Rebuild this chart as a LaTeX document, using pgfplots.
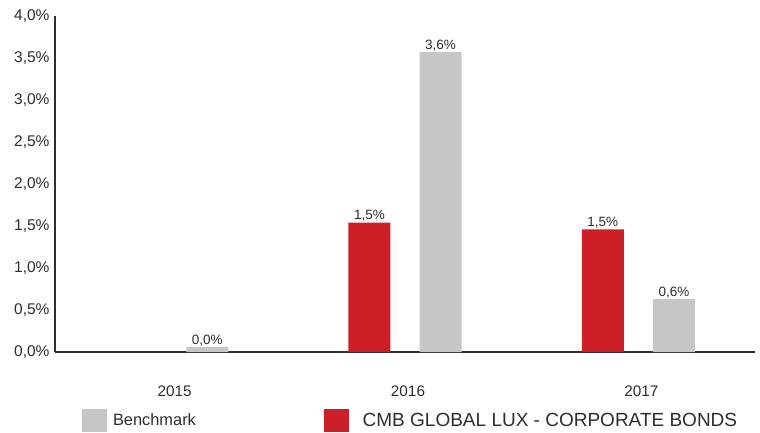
\documentclass[border=0pt]{standalone}
\usepackage{pgfplots}
\pgfplotsset{compat=1.18}
\usepackage{fontspec}
\setmainfont{Liberation Sans}
\definecolor{cmbred}{RGB}{204,31,39}
\definecolor{bench}{RGB}{198,197,199}
\definecolor{txt}{RGB}{45,45,45}
\begin{document}
\begin{tikzpicture}
\useasboundingbox (-55pt,-80pt) rectangle (705pt,352pt);
\begin{axis}[
  scale only axis, width=700pt, height=336pt,
  xmin=-0.5, xmax=2.5, ymin=0, ymax=4,
  axis x line*=bottom, axis y line*=left,
  axis line style={line width=1.6pt, color=txt},
  clip=false,
  ybar, bar width=0.18,
  major tick length=0pt,
  ytick={0,0.5,1,1.5,2,2.5,3,3.5,4},
  /pgf/number format/fixed,
  /pgf/number format/fixed zerofill,
  /pgf/number format/precision=1,
  /pgf/number format/use comma,
  /pgf/number format/assume math mode=true,
  yticklabel={\pgfmathprintnumber{\tick}\%},
  yticklabel style={font=\fontsize{15.5}{18}\selectfont, color=txt, xshift=-2pt},
  xtick={0,1,2}, xticklabels={2015,2016,2017},
  xticklabel style={font=\fontsize{15.3}{18}\selectfont, color=txt, yshift=-30pt, xshift=3pt},
  nodes near coords,
  point meta=explicit symbolic,
  every node near coord/.append style={font=\fontsize{13.5}{16}\selectfont, color=txt, inner sep=1pt},
  reverse legend,
  legend columns=2,
  legend cell align=left,
  legend style={at={(axis description cs:0.03857,-0.16964)}, anchor=north west,
    draw=none, fill=none, inner sep=0pt, outer sep=0pt, column sep=0pt,
    nodes={inner sep=0pt, text=txt}},
  legend image code/.code={\fill[#1,draw=none] (0pt,-11.5pt) rectangle (25pt,11.5pt); \path (31pt,0pt);},
]
\addplot[fill=cmbred, draw=none, bar shift=-0.1525] coordinates {
  (1,1.54) [{1,5\%}]
  (2,1.46) [{1,5\%}]
};
\addlegendentry{\hspace{7.7pt}\fontsize{19}{22}\selectfont CMB GLOBAL LUX - CORPORATE BONDS}
\addplot[fill=bench, draw=none, bar shift=0.1525] coordinates {
  (0,0.06) [{0,0\%}]
  (1,3.57) [{3,6\%}]
  (2,0.63) [{0,6\%}]
};
\addlegendentry{\fontsize{16.4}{19}\selectfont\makebox[211pt][l]{Benchmark}}
\end{axis}
\end{tikzpicture}
\end{document}
